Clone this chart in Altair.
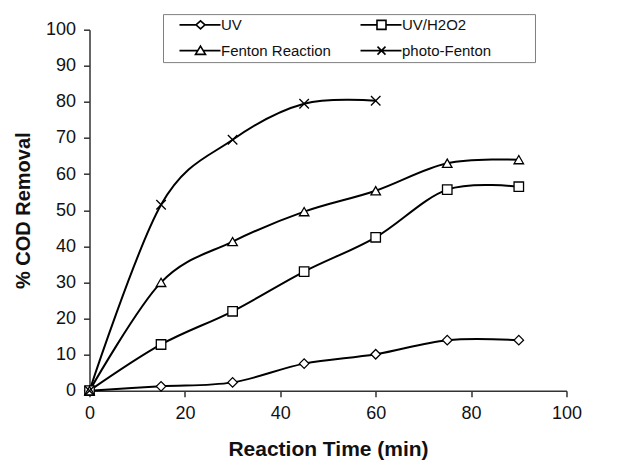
import altair as alt
import pandas as pd

series = ["UV", "UV/H2O2", "Fenton Reaction", "photo-Fenton"]

time_uv = [0, 15, 30, 45, 60, 75, 90]
cod_uv = [0, 1.2, 2.3, 7.5, 10.1, 14.0, 14.0]

time_h2o2 = [0, 15, 30, 45, 60, 75, 90]
cod_h2o2 = [0, 12.8, 22.0, 33.0, 42.5, 55.7, 56.5]

time_fenton = [0, 15, 30, 45, 60, 75, 90]
cod_fenton = [0, 30.0, 41.3, 49.6, 55.4, 63.0, 64.0]

time_photo = [0, 15, 30, 45, 60]
cod_photo = [0, 51.5, 69.5, 79.5, 80.3]

x_ticks = [0, 20, 40, 60, 80, 100]
y_ticks = [0, 10, 20, 30, 40, 50, 60, 70, 80, 90, 100]

rows = []
for name, ts, vs in zip(series,
                        [time_uv, time_h2o2, time_fenton, time_photo],
                        [cod_uv, cod_h2o2, cod_fenton, cod_photo]):
    for t, v in zip(ts, vs):
        rows.append({"time": t, "cod": v, "series": name})
df = pd.DataFrame(rows)

FONT = "Liberation Sans"

x_enc = alt.X("time:Q",
              scale=alt.Scale(domain=[0, 100], nice=False, zero=True),
              axis=alt.Axis(values=x_ticks, title="Reaction Time (min)", grid=False,
                            tickSize=6, tickWidth=1.5, domainWidth=1.5,
                            domainColor="#333333", tickColor="#333333",
                            labelFont=FONT, labelFontSize=18, labelColor="#111111",
                            labelPadding=8, labelFlush=False,
                            titleFont=FONT, titleFontSize=21, titleFontWeight="bold",
                            titleColor="#111111", titlePadding=16))
y_enc = alt.Y("cod:Q",
              scale=alt.Scale(domain=[0, 100], nice=False),
              axis=alt.Axis(values=y_ticks, title="% COD Removal", grid=False,
                            tickSize=6, tickWidth=1.5, domainWidth=1.5,
                            domainColor="#333333", tickColor="#333333",
                            labelFont=FONT, labelFontSize=18, labelColor="#111111",
                            labelPadding=8,
                            titleFont=FONT, titleFontSize=20, titleFontWeight="bold",
                            titleColor="#111111", titlePadding=12))

base = alt.Chart(df)

lines = base.mark_line(interpolate="cardinal", color="black", strokeWidth=2).encode(
    x=x_enc, y=y_enc, detail="series:N")

marker_shapes = ["diamond", "square", "triangle-up", "M-1,-1L1,1M-1,1L1,-1"]
points = base.mark_point(filled=True, fill="white", stroke="black", strokeWidth=1.3,
                         size=90, opacity=1).encode(
    x=x_enc, y=y_enc,
    shape=alt.Shape("series:N", scale=alt.Scale(domain=series, range=marker_shapes),
                    legend=None))

legend_shapes = [
    "M1.2,0H4.5M6.3,0H9.4M4.5,0L5.4,-0.8L6.3,0L5.4,0.8Z",
    "M1.2,0H4.5M6.3,0H9.4M4.5,-0.9H6.3V0.9H4.5Z",
    "M1.2,0H4.85M5.95,0H9.4M5.4,-0.9L6.4,0.75L4.4,0.75Z",
    "M1.2,0H9.4M4.6,-0.8L6.2,0.8M4.6,0.8L6.2,-0.8",
]
pad = "\u00a0" * 7 + "\u2800"
legend_layer = base.mark_point(opacity=0).encode(
    x=x_enc, y=y_enc,
    shape=alt.Shape("series:N", scale=alt.Scale(domain=series, range=legend_shapes),
                    legend=alt.Legend(
                        orient="none", legendX=73.5, legendY=-15.6, columns=2,
                        direction="horizontal",
                        title=None, symbolSize=100, symbolStrokeWidth=1.6,
                        symbolStrokeColor="black", symbolFillColor="white",
                        symbolOpacity=1, labelFont=FONT, labelFontSize=15,
                        labelColor="#111111", labelOffset=40, labelLimit=400,
                        columnPadding=15, rowPadding=9, padding=3,
                        strokeColor="#808080",
                        labelExpr=("(datum.label == 'UV/H2O2' || datum.label == 'photo-Fenton') ? datum.label + '"
                                   + pad + "' : datum.label"))))

chart = alt.layer(lines, points, legend_layer).resolve_scale(shape="independent").properties(
    width=477, height=361,
    autosize=alt.AutoSizeParams(type="none"),
    padding={"left": 89.5, "top": 29.7, "right": 62.3, "bottom": 72},
).configure_view(stroke=None)

chart.save("out.html", embed_options={"renderer": "svg", "actions": False})
